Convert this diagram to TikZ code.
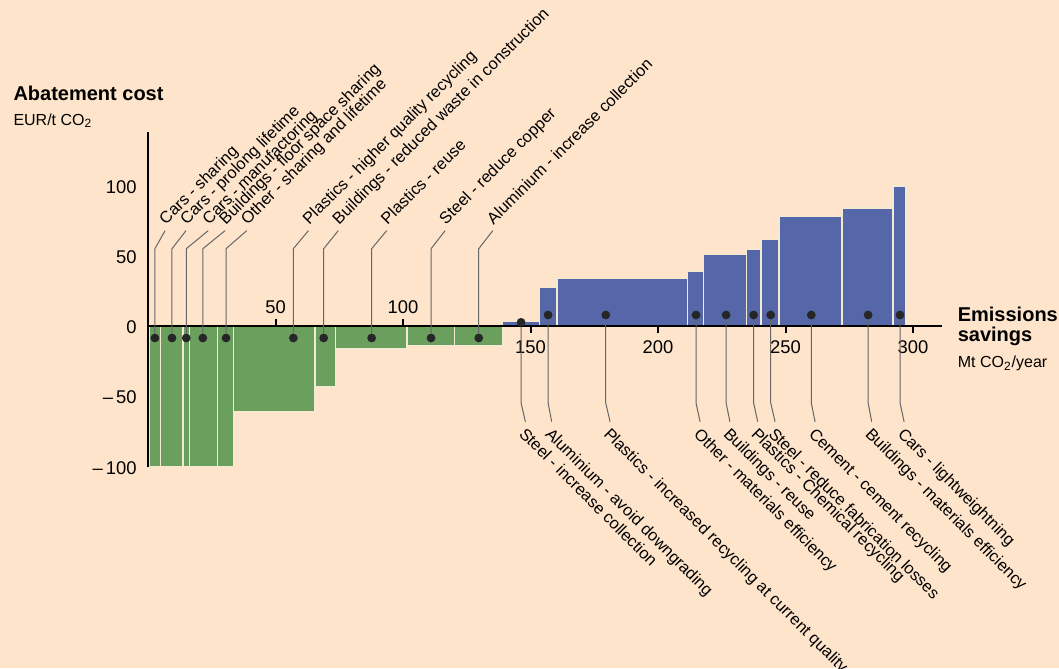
\documentclass[tikz,border=0pt]{standalone}
\usepackage{fontspec}
\setmainfont{Liberation Sans}
\definecolor{paper}{HTML}{FEE4CB}
\definecolor{savegreen}{HTML}{6B9F5E}
\definecolor{costblue}{HTML}{5566A9}
\definecolor{barline}{HTML}{F4EAD4}
\begin{document}
\begin{tikzpicture}[x=1.275pt, y=0.705pt]
    \tikzstyle{every node}=[inner sep=0pt, font=\fontsize{8.2}{9}\selectfont]
    \tikzstyle{bar}=[draw=barline, line width=0.7pt]
    \tikzstyle{bullet}=[circle, fill=black!85, minimum size=4.4pt]
    \tikzstyle{leader}=[draw=black!60, line width=0.5pt]
    \tikzstyle{up label}=[rotate=45, anchor=south west, inner xsep=2pt, inner ysep=1.4pt, text depth=0pt]
    \tikzstyle{down label}=[rotate=-45, anchor=north west, inner xsep=2pt, inner ysep=1pt, text height=6pt]
    \tikzstyle{tick label}=[font=\fontsize{9.2}{10}\selectfont]
    \tikzstyle{axis}=[line width=1pt]
    \fill[paper] (-58.04,-242.77) rectangle (357.25,231.0);
    \useasboundingbox (-58.04,-242.77) rectangle (357.25,231.0);
    % bars below zero
    \foreach \xa/\xb/\h in {0.6/4.8/-100, 4.8/13.8/-100, 13.8/16.2/-100, 16.2/27.3/-100, 27.3/33.6/-100,
        33.6/65.5/-61, 65.5/73.5/-43.5, 73.5/101.6/-16.5, 101.6/120.1/-14, 120.1/139/-14}
        \path[bar, fill=savegreen] (\xa,0) rectangle (\xb,\h);
    % bars above zero
    \foreach \xa/\xb/\h in {139/153.5/3, 153.5/160.4/27, 160.4/211.6/33.5, 211.6/217.9/38.5, 217.9/234.6/50.5,
        234.6/240.4/54, 240.4/247.5/61, 247.5/272.1/77.5, 272.1/292.2/83.5, 292.2/297.3/99}
        \path[bar, fill=costblue] (\xa,0) rectangle (\xb,\h);
    % axes
    \draw[axis] (0,-100) -- (0,137.6);
    \draw[axis] (0,0) -- (311.4,0);
    \foreach \v in {50,100} {
        \draw[axis] (\v,0) -- (\v,5);
        \node[tick label] (xt\v) at (\v,13.5) {\v};
    }
    \foreach \v in {150,200,250,300} {
        \draw[axis] (\v,0) -- (\v,-5);
        \node[tick label] (xt\v) at (\v,-14.9) {\v};
    }
    \node[tick label, anchor=east] (yt1) at (-4.3,98.5) {100};
    \node[tick label, anchor=east] (yt2) at (-4.3,48.5) {50};
    \node[tick label, anchor=east] (yt3) at (-4.3,-1) {0};
    \node[tick label, anchor=east] (yt4) at (-4.3,-51) {–\,50};
    \node[tick label, anchor=east] (yt5) at (-4.3,-101) {–\,100};
    % axis titles
    \node[anchor=base west, font=\fontsize{10}{11}\selectfont\bfseries] (ytitle) at (-52.9,159.4) {Abatement cost};
    \node[anchor=base west, font=\fontsize{8}{9}\selectfont] (yunit) at (-52.9,142.3) {EUR/t CO\textsubscript{2}};
    \node[anchor=base west, align=left, font=\fontsize{10}{10}\selectfont\bfseries] (xtitle) at (317.4,-11.3) {Emissions\\savings};
    \node[anchor=base west, font=\fontsize{8}{9}\selectfont] (xunit) at (317.4,-29.4) {Mt CO\textsubscript{2}/year};
    % labels above the axis
    \foreach \nn/\xd/\xe/\lab in {1/2.7/6.7/Cars - sharing, 2/9.4/14.9/Cars - prolong lifetime,
        3/15.0/23.6/Cars - manufactoring, 4/21.5/30.2/Buildings - floor space sharing,
        5/30.6/38.7/Other - sharing and lifetime, 6/57.0/62.9/Plastics - higher quality recycling,
        7/68.9/74.6/Buildings - reduced waste in construction, 8/87.7/93.6/Plastics - reuse,
        9/111.0/116.5/Steel - reduce copper, 10/129.7/135.2/Aluminium - increase collection} {
        \node[bullet] (d\nn) at (\xd,-8.7) {};
        \coordinate (k\nn) at (\xd,54.6);
        \node[up label] (l\nn) at (\xe,67.4) {\lab};
        \draw[leader] (d\nn) -- (k\nn) -- (l\nn.south west);
    }
    % labels below the axis
    \foreach \nn/\xd/\yd/\xe/\lab in {11/146.3/2.4/148.0/Steel - increase collection,
        12/156.9/7.6/158.3/Aluminium - avoid downgrading,
        13/179.5/7.6/181.2/Plastics - increased recycling at current quality,
        14/214.9/7.6/216.5/Other - materials efficiency, 15/226.7/7.6/228.2/Buildings - reuse,
        16/237.5/7.6/239.1/Plastics - Chemical recycling, 17/244.2/7.6/245.9/Steel - reduce fabrication losses,
        18/260.1/7.6/261.6/Cement - cement recycling, 19/282.4/7.6/283.8/Buildings - materials efficiency,
        20/294.9/7.6/296.5/Cars - lightweightning} {
        \node[bullet] (d\nn) at (\xd,\yd) {};
        \coordinate (k\nn) at (\xd,-54.8);
        \node[down label] (l\nn) at (\xe,-68.1) {\lab};
        \draw[leader] (d\nn) -- (k\nn) -- (l\nn.north west);
    }
\end{tikzpicture}
\end{document}
